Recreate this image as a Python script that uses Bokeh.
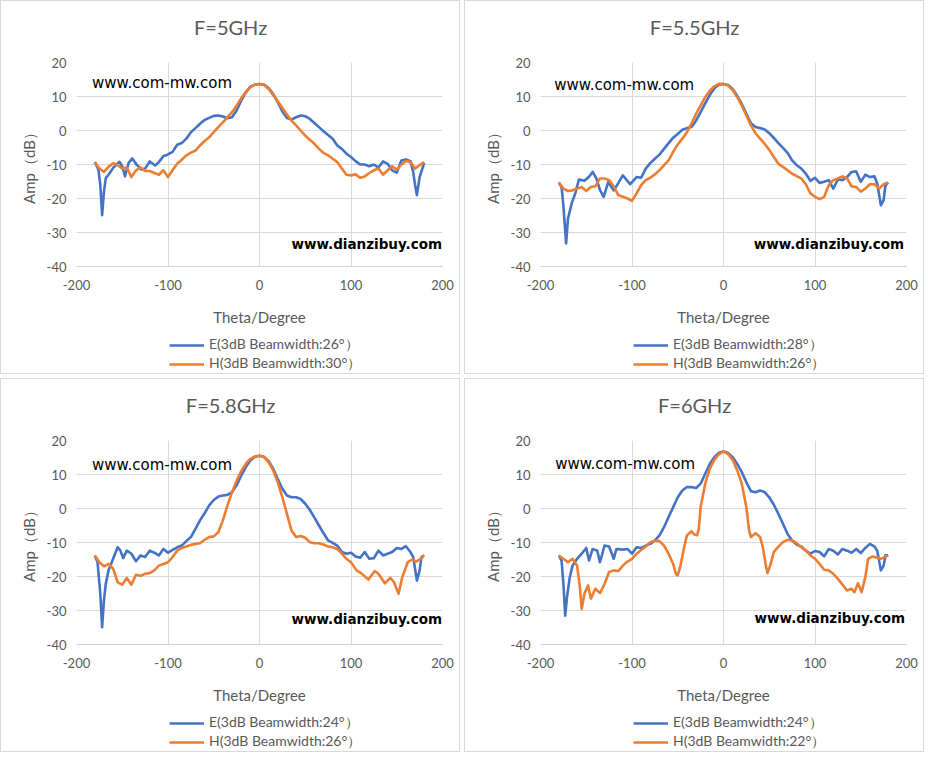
from bokeh.plotting import figure
from bokeh.layouts import column, row
from bokeh.models import Range1d, FixedTicker, Label, Legend, LegendItem, PrintfTickFormatter
from bokeh.embed import file_html
from bokeh.resources import INLINE

# ---------------- data ----------------
titles = ["F=5GHz", "F=5.5GHz", "F=5.8GHz", "F=6GHz"]
e_labels = ["E(3dB Beamwidth:26°）", "E(3dB Beamwidth:28°）", "E(3dB Beamwidth:24°）", "E(3dB Beamwidth:24°）"]
h_labels = ["H(3dB Beamwidth:30°）", "H(3dB Beamwidth:26°）", "H(3dB Beamwidth:26°）", "H(3dB Beamwidth:22°）"]
x_ticks = [-200, -100, 0, 100, 200]
y_ticks = [-40, -30, -20, -10, 0, 10, 20]

# F = 5 GHz
e1_theta = [-180, -176, -174, -172, -170, -168, -165, -160, -153, -150, -147, -143, -139, -135, -129, -125, -120, -114, -110, -105, -101, -95, -90, -85, -80, -75, -70, -65, -60, -55, -50, -45, -40, -35, -30, -25, -20, -15, -10, -5, 0, 5, 10, 15, 20, 25, 30, 35, 40, 45, 50, 55, 60, 65, 70, 75, 80, 85, 90, 95, 100, 105, 110, 115, 120, 125, 130, 135, 140, 145, 150, 155, 160, 165, 168, 170, 172, 175, 180]
e1_amp = [-9.3, -11.5, -16, -24.9, -18, -14, -13, -11, -9.2, -10.5, -13.5, -9.5, -8.2, -9.8, -11.5, -11.2, -9.1, -10.3, -9.3, -7.5, -7.2, -6.3, -4.2, -3.7, -2.4, -0.5, 0.7, 2, 3.1, 3.7, 4.3, 4.4, 4.1, 3.6, 3.9, 5.9, 8.8, 11.2, 12.9, 13.5, 13.7, 13.5, 12.5, 10.7, 8.3, 5.6, 3.7, 3.2, 3.9, 4.4, 4.2, 3.4, 2.2, 1, -0.2, -1.3, -2.4, -4.4, -5.4, -6.8, -7.8, -9, -10, -10, -10.5, -10, -10.9, -9.1, -9.8, -11.7, -12.4, -8.8, -8.5, -9, -12.2, -16, -19, -13.7, -9.5]
h1_theta = [-180, -175, -170, -165, -160, -155, -150, -145, -140, -135, -130, -125, -120, -115, -110, -105, -100, -95, -90, -85, -80, -75, -70, -65, -60, -55, -50, -45, -40, -35, -30, -25, -20, -15, -10, -5, 0, 5, 10, 15, 20, 25, 30, 35, 40, 45, 50, 55, 60, 65, 70, 75, 80, 85, 90, 95, 100, 105, 110, 115, 120, 125, 130, 135, 140, 145, 150, 155, 160, 165, 170, 175, 180]
h1_amp = [-9.3, -11.2, -12.2, -10.7, -9.6, -10.2, -11.2, -10.9, -13.7, -11.7, -10.9, -11.9, -11.9, -12.5, -13, -11.7, -13.7, -11.7, -9.8, -8.6, -7.3, -6.5, -5.9, -4.4, -3.1, -2, -0.5, 1, 2.4, 3.9, 5.4, 7.3, 9.5, 11.3, 12.7, 13.5, 13.7, 13.4, 12.2, 10.4, 8.6, 6.6, 4.7, 2.9, 1.5, 0, -1.5, -2.7, -3.9, -5.4, -6.6, -7.3, -8.3, -9.3, -11.2, -13, -13.2, -12.9, -13.9, -13.5, -12.5, -11.7, -11.2, -13, -11.7, -10.5, -11.5, -10, -9, -9.3, -11.2, -10.2, -9.3]

# F = 5.5 GHz
e2_theta = [-180, -177, -175, -172, -170, -166, -162, -158, -152, -147, -143, -139, -135, -131, -126, -120, -115, -110, -102, -95, -90, -85, -80, -75, -70, -65, -60, -55, -50, -45, -40, -35, -30, -25, -20, -15, -10, -5, 0, 5, 10, 15, 20, 25, 30, 35, 40, 45, 50, 55, 60, 65, 70, 75, 80, 85, 90, 95, 100, 105, 110, 115, 120, 125, 130, 135, 140, 145, 150, 155, 160, 165, 168, 172, 175, 177, 180]
e2_amp = [-15.3, -16.6, -22, -33.2, -26, -21.5, -18.5, -14.4, -14.8, -13.6, -12.2, -14.1, -17.5, -19.5, -15.2, -17.6, -15.5, -13.2, -15.8, -13.7, -13.9, -11.2, -9.6, -8.3, -7.1, -5.4, -3.7, -2.1, -1, 0.2, 0.7, 1, 2.9, 5.4, 8, 10.4, 12.4, 13.5, 13.7, 13.4, 12.2, 10.2, 7.8, 4.9, 2.1, 1, 0.7, 0.3, -0.8, -2.2, -3.7, -5.1, -6.6, -8.8, -10.2, -11.2, -12.7, -14.8, -13.9, -15.4, -15.1, -14.6, -17.1, -14.4, -14.6, -13.7, -12.2, -12, -15.1, -13, -13.7, -13.5, -15.6, -22, -20.5, -16.1, -15.3]
h2_theta = [-180, -175, -170, -165, -160, -155, -150, -145, -140, -135, -130, -125, -120, -115, -110, -105, -100, -95, -90, -85, -80, -75, -70, -65, -60, -55, -50, -45, -40, -35, -30, -25, -20, -15, -10, -5, 0, 5, 10, 15, 20, 25, 30, 35, 40, 45, 50, 55, 60, 65, 70, 75, 80, 85, 90, 95, 100, 105, 110, 115, 120, 125, 130, 135, 140, 145, 150, 155, 160, 165, 170, 175, 180]
h2_amp = [-15.3, -17.1, -17.8, -17.6, -17.1, -16.6, -17.8, -16.6, -16.4, -14.1, -14.1, -14.6, -16.4, -19, -19.5, -20, -20.7, -18.5, -16.1, -14.6, -13.9, -12.9, -11.7, -10.2, -8.8, -6.3, -4.1, -2.4, -0.5, 2, 4.9, 7.3, 9.8, 11.7, 13, 13.7, 13.7, 13.2, 11.9, 9.8, 7.3, 4.4, 1.5, -0.8, -2.4, -3.9, -5.7, -7.8, -9.8, -10.7, -11.7, -12.7, -13.4, -14.1, -15.8, -18.5, -19.5, -20.2, -19.5, -16.1, -14.6, -14.1, -13.5, -14.1, -16.4, -16.6, -18, -17.1, -15.8, -15.8, -17.1, -15.8, -15.3]

# F = 5.8 GHz
e3_theta = [-180, -177, -174, -172, -170, -168, -165, -160, -155, -152, -149, -145, -140, -135, -130, -125, -120, -115, -110, -105, -100, -95, -90, -85, -80, -75, -70, -65, -60, -55, -50, -45, -40, -35, -30, -25, -20, -15, -10, -5, 0, 5, 10, 15, 20, 25, 30, 35, 40, 45, 50, 55, 60, 65, 70, 75, 80, 85, 90, 95, 100, 105, 110, 115, 120, 125, 130, 135, 140, 145, 150, 155, 160, 165, 168, 172, 175, 177, 180]
e3_amp = [-13.8, -15.8, -25, -34.9, -27, -22.2, -18.2, -14.8, -11.4, -12.4, -14.6, -12.4, -13.3, -15.5, -13.8, -14.3, -12.4, -13, -13.8, -11.9, -13, -12.2, -11.4, -10.9, -9.6, -8.4, -6, -3.5, -1.4, 0.9, 2.5, 3.5, 3.8, 4, 4.8, 6.8, 9.7, 12.2, 14.1, 15.2, 15.5, 15.2, 13.9, 11.7, 8.7, 5.8, 3.8, 3.3, 3.3, 2.8, 1.4, -0.4, -2.7, -5, -7.3, -9.4, -10.1, -10.9, -12.8, -13.3, -13, -14.1, -14.5, -12.8, -14.8, -14.6, -12.4, -13.8, -13.3, -12.8, -11.6, -11.9, -11.1, -12.8, -14.3, -21.2, -18.2, -14.3, -13.8]
h3_theta = [-180, -175, -170, -165, -160, -155, -150, -145, -140, -135, -130, -125, -120, -115, -110, -105, -100, -95, -90, -85, -80, -75, -70, -65, -60, -55, -50, -45, -40, -35, -30, -25, -20, -15, -10, -5, 0, 5, 10, 15, 20, 25, 30, 35, 40, 45, 50, 55, 60, 65, 70, 75, 80, 85, 90, 95, 100, 106, 111, 119, 126, 130, 137, 143, 147, 152, 156, 162, 167, 171, 176, 180]
h3_amp = [-13.8, -15.8, -17, -16.3, -17.7, -21.7, -22.4, -20.4, -22.4, -19.5, -19.8, -19.2, -19, -18.2, -16.8, -16.3, -15.8, -14.3, -12.4, -11.6, -11.2, -10.7, -10.4, -10.2, -9.2, -8.4, -8.2, -7, -3.5, 0.9, 4.8, 8.2, 11, 13.1, 14.6, 15.3, 15.5, 15.1, 13.6, 11.2, 7.7, 3.3, -1.6, -6.5, -8.4, -8.1, -8.6, -9.9, -10.2, -10.2, -10.6, -11.2, -11.4, -11.9, -13.3, -14.8, -15.8, -18.2, -19, -20.9, -18.4, -19.2, -22, -20.4, -21.7, -25.1, -20.2, -15.8, -15, -15.6, -14.8, -13.8]

# F = 6 GHz
e4_theta = [-180, -177, -175, -173, -171, -168, -165, -160, -155, -150, -147, -143, -138, -135, -130, -125, -120, -117, -110, -105, -100, -95, -90, -85, -80, -75, -70, -65, -60, -55, -50, -45, -40, -35, -30, -25, -20, -15, -10, -5, 0, 5, 10, 15, 20, 25, 30, 35, 40, 45, 50, 55, 60, 65, 70, 75, 80, 85, 90, 95, 100, 105, 110, 115, 120, 125, 130, 135, 140, 145, 150, 155, 160, 165, 168, 172, 175, 177, 180]
e4_amp = [-13.8, -15.3, -22, -31.5, -26, -20.2, -16.8, -14.8, -13.3, -11.6, -15.3, -11.9, -12.4, -15.8, -10.9, -11.2, -14.8, -11.9, -12.1, -11.9, -13.3, -11.4, -11.6, -10.9, -10.4, -9.4, -7.9, -5.5, -2.5, 0.4, 3.3, 5.3, 6.3, 6.3, 6, 7.3, 10.2, 13.1, 15.1, 16.4, 16.8, 16.3, 15.1, 13.1, 10.7, 7.7, 5.1, 4.8, 5.3, 4.8, 3.3, 1.1, -1.6, -4.5, -7.5, -9.4, -10.6, -11.2, -12.4, -13.3, -12.5, -12.8, -14.1, -11.9, -12.4, -13.5, -11.9, -12.4, -13, -11.9, -13.1, -11.6, -10.4, -11.2, -12.4, -18.2, -16.8, -13.8, -13.8]
h4_theta = [-180, -175, -170, -165, -160, -157, -155, -152, -148, -145, -140, -135, -130, -125, -120, -115, -110, -105, -100, -95, -90, -85, -80, -75, -70, -65, -60, -55, -52, -50, -47, -43, -40, -35, -32, -29, -27, -25, -20, -15, -10, -5, 0, 5, 10, 15, 20, 25, 28, 30, 35, 40, 43, 46, 48, 51, 55, 60, 65, 70, 75, 80, 85, 90, 95, 100, 105, 110, 115, 120, 125, 130, 135, 140, 143, 147, 151, 155, 158, 163, 168, 172, 176, 180]
h4_amp = [-13.8, -14.8, -15.8, -14.8, -16.8, -23.1, -29.5, -25.1, -22.6, -26.5, -23.6, -24.9, -22.2, -18.7, -18.2, -18.4, -16.8, -15.6, -14.8, -13.3, -12.2, -11.2, -9.9, -9.4, -9.6, -10.9, -13.3, -16.3, -19.2, -19.7, -16.8, -11.4, -7.9, -6.7, -7.6, -7.9, -6, 0.4, 7.3, 11.7, 14.3, 16, 16.8, 16, 14.3, 11.2, 7.3, 0.4, -6.5, -8.4, -7.3, -8.4, -11.4, -16.3, -19, -16.8, -12.8, -11.2, -9.9, -9.2, -9.4, -10.2, -11.4, -12.4, -13.8, -14.8, -16.3, -18, -18.2, -19.2, -20.7, -22.4, -24.1, -23.6, -24.6, -22, -24.6, -20.2, -14.8, -14.1, -14.5, -14.8, -14.3, -13.8]

series = [(e1_theta, e1_amp, h1_theta, h1_amp), (e2_theta, e2_amp, h2_theta, h2_amp),
          (e3_theta, e3_amp, h3_theta, h3_amp), (e4_theta, e4_amp, h4_theta, h4_amp)]
for s in series:
    assert len(s[0]) == len(s[1]), (len(s[0]), len(s[1]))
    assert len(s[2]) == len(s[3]), (len(s[2]), len(s[3]))

BLUE = "#4472C4"
ORANGE = "#ED7D31"
TXT = "#595959"
GRID = "#D9D9D9"
FONT = "Lato"

PANEL_W = 460
TITLE_H = 52
MAIN_H = 278
LEG_H = 44

# watermark positions (data units) per panel
wm1_pos = [(-183, 13.9), (-185, 13.5), (-183, 12.9), (-184, 13.2)]
wm2_pos = [(35, -33.3), (33, -33.3), (35, -32.4), (34, -32.1)]


def strip(height):
    q = figure(width=PANEL_W, height=height, output_backend="svg", toolbar_location=None,
               x_range=Range1d(0, 1), y_range=Range1d(0, 1),
               x_axis_type=None, y_axis_type=None,
               min_border=0, min_border_left=0, min_border_right=0,
               min_border_top=0, min_border_bottom=0)
    q.grid.visible = False
    q.outline_line_color = None
    q.background_fill_color = None
    q.border_fill_color = None
    return q


def make_title(i):
    q = strip(TITLE_H)
    # strip frame is aligned with the chart frame (76..442 px); 0.421 ~ panel centre
    q.add_layout(Label(x=0.421, y=0.50, text=titles[i], text_align="center",
                       text_baseline="middle", text_font=FONT,
                       text_font_size="20px", text_color=TXT))
    return q


def make_main(i, e_t, e_a, h_t, h_a):
    p = figure(width=PANEL_W, height=MAIN_H, output_backend="svg", toolbar_location=None,
               x_range=Range1d(-200, 200), y_range=Range1d(-40, 20),
               min_border_left=76, min_border_right=18, min_border_top=10,
               min_border_bottom=64)
    p.outline_line_color = None
    p.background_fill_color = "white"
    p.border_fill_color = None

    p.xaxis.ticker = FixedTicker(ticks=x_ticks)
    p.yaxis.ticker = FixedTicker(ticks=y_ticks)
    p.xaxis.formatter = PrintfTickFormatter(format="%d")
    p.yaxis.formatter = PrintfTickFormatter(format="%d")
    for ax in (p.xaxis[0], p.yaxis[0]):
        ax.major_tick_line_color = None
        ax.minor_tick_line_color = None
        ax.major_tick_in = 0
        ax.major_tick_out = 0
        ax.minor_tick_out = 0
        ax.major_label_text_font = FONT
        ax.major_label_text_font_size = "13px"
        ax.major_label_text_color = TXT
        ax.axis_label_text_font = FONT
        ax.axis_label_text_font_size = "15px"
        ax.axis_label_text_font_style = "normal"
        ax.axis_label_text_color = TXT
    p.xaxis.axis_line_color = "#D0D0D0"
    p.yaxis.axis_line_color = None
    p.xaxis.major_label_standoff = 13
    p.yaxis.major_label_standoff = 10
    p.xaxis.axis_label = "Theta/Degree"
    p.yaxis.axis_label = "Amp（dB）"
    p.xaxis.axis_label_standoff = 15
    p.yaxis.axis_label_standoff = 6

    p.xgrid.grid_line_color = GRID
    p.ygrid.grid_line_color = GRID

    p.line(e_t, e_a, line_color=BLUE, line_width=2.6, line_join="round")
    p.line(h_t, h_a, line_color=ORANGE, line_width=2.6, line_join="round")

    x1, y1 = wm1_pos[i]
    p.add_layout(Label(x=x1, y=y1, text="www.com-mw.com", text_align="left",
                       text_baseline="middle", text_font="DejaVu Sans",
                       text_font_size="15px", text_color="black"))
    x2, y2 = wm2_pos[i]
    p.add_layout(Label(x=x2, y=y2, text="www.dianzibuy.com", text_align="left",
                       text_baseline="middle", text_font="DejaVu Sans",
                       text_font_style="bold",
                       text_font_size="13.5px", text_color="black"))
    return p


def make_legend(i):
    q = strip(LEG_H)
    # legend proxies: drawn outside this strip's range, only their legend glyph shows
    r_e = q.line([5, 6], [5, 6], line_color=BLUE, line_width=2.6)
    r_h = q.line([5, 6], [5, 6], line_color=ORANGE, line_width=2.6)
    legend = Legend(items=[LegendItem(label=e_labels[i], renderers=[r_e]),
                           LegendItem(label=h_labels[i], renderers=[r_h])],
                    orientation="vertical", location=(93, 1),
                    border_line_color=None, background_fill_alpha=0,
                    padding=0, spacing=0, margin=0,
                    glyph_width=35, glyph_height=16, label_height=16,
                    label_standoff=5, label_text_font=FONT,
                    label_text_font_size="14px", label_text_color=TXT)
    q.add_layout(legend)
    return q


panels = []
for i in range(4):
    panels.append(column(make_title(i), make_main(i, *series[i]), make_legend(i), spacing=0,
                         styles={"outline": "1px solid #D9D9D9", "outline-offset": "-1px",
                                 "background-color": "white"}))

layout = column(row(panels[0], panels[1], spacing=4),
                row(panels[2], panels[3], spacing=4), spacing=4)

open("out.html", "w").write(file_html(layout, INLINE))
